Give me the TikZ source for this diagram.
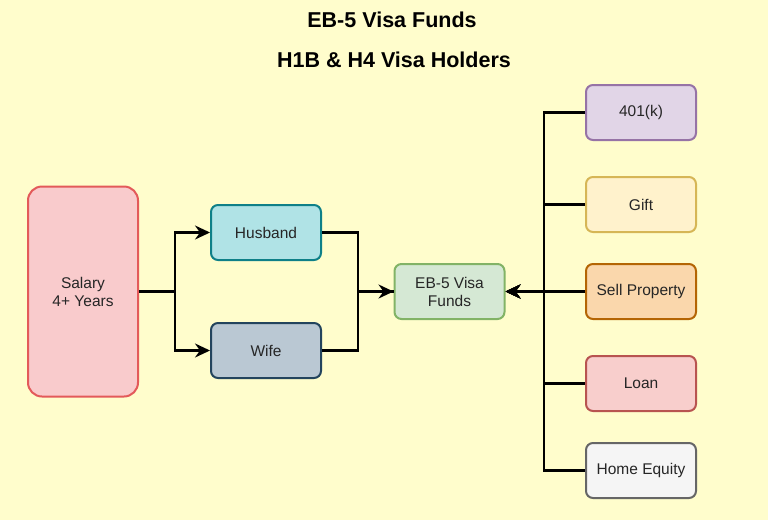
\documentclass[tikz,border=0pt]{standalone}
\usepackage{fontspec}
\setmainfont{Liberation Sans}
\usetikzlibrary{arrows.meta}

\definecolor{sfondo}{HTML}{FFFDCC}
\definecolor{fsalary}{HTML}{F9CBCC}\definecolor{dsalary}{HTML}{E35A5A}
\definecolor{fteal}{HTML}{B0E3E6}\definecolor{dteal}{HTML}{0E8088}
\definecolor{fslate}{HTML}{BAC8D3}\definecolor{dslate}{HTML}{23445D}
\definecolor{fgreen}{HTML}{D5E8D4}\definecolor{dgreen}{HTML}{82B366}
\definecolor{fpurple}{HTML}{E1D5E7}\definecolor{dpurple}{HTML}{9673A6}
\definecolor{fyellow}{HTML}{FFF2CC}\definecolor{dyellow}{HTML}{D6B656}
\definecolor{forange}{HTML}{FAD7AC}\definecolor{dorange}{HTML}{B46504}
\definecolor{fred}{HTML}{F8CECC}\definecolor{dred}{HTML}{B85450}
\definecolor{fgrey}{HTML}{F5F5F5}\definecolor{dgrey}{HTML}{666666}

\begin{document}
\begin{tikzpicture}[x=1pt,y=-1pt,
    box/.style={rectangle, rounded corners=7pt, line width=2pt, fill=f#1, draw=d#1,
        minimum width=110pt, minimum height=55pt, align=center, text=black!85,
        font=\fontsize{15.5}{18}\selectfont},
    freccia/.style={line width=2.4pt, -{Stealth[length=15pt,width=14pt,inset=5pt]}}]
    \fill[sfondo] (0,0) rectangle (768,520);

    % Titolo
    \node[font=\bfseries\fontsize{21.5}{25}\selectfont] (titolo1) at (392,20) {EB-5 Visa Funds};
    \node[font=\bfseries\fontsize{21.5}{25}\selectfont] (titolo2) at (394,60) {H1B \& H4 Visa Holders};

    % Nodi
    \node[box=salary, minimum height=210pt, rounded corners=14pt] (salary) at (83,291.5) {Salary\\4+ Years};
    \node[box=teal] (husband) at (266,232.5) {Husband};
    \node[box=slate] (wife) at (266,350.5) {Wife};
    \node[box=green] (eb5) at (449.5,291.5) {EB-5 Visa\\Funds};
    \foreach \nome/\testo/\y/\col in {k401/401(k)/112.5/purple, gift/Gift/204.5/yellow,
            sell/Sell Property/291.5/orange, loan/Loan/383.5/red, equity/Home Equity/470.5/grey} {
            \node[box=\col] (\nome) at (641,\y) {\testo};
        }

    % Archi
    \foreach \dest in {husband, wife} {
            \draw[freccia] (salary.east) -- ++(36,0) |- (\dest);
        }
    \draw[freccia] (husband.east) -- ++(36,0) |- (eb5);
    \draw[line width=2.4pt] (wife.east) -- ++(36,0) |- (eb5.west);
    \foreach \nome in {k401, gift, sell, loan, equity} {
            \draw[freccia] (\nome.west) -- ++(-41,0) |- (eb5);
        }
\end{tikzpicture}
\end{document}
